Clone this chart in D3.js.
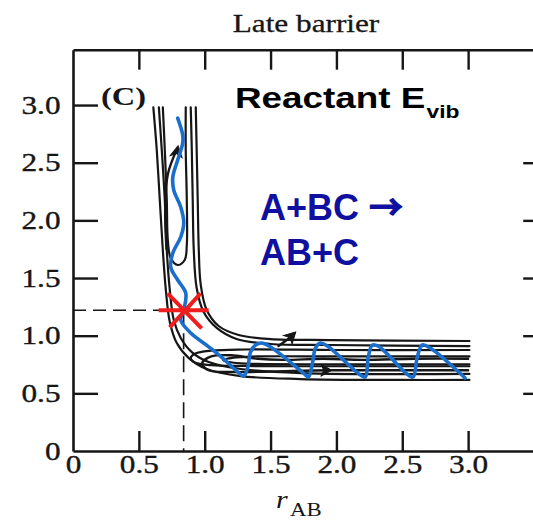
<!DOCTYPE html>
<html>
<head>
<meta charset="utf-8">
<script src="https://cdn.jsdelivr.net/npm/d3@7"></script>
<style>
  html, body { margin: 0; padding: 0; background: #fff; }
  svg { display: block; }
</style>
</head>
<body>
<svg id="chart" width="533" height="520"></svg>
<script>
// ---- axis ticks ----
const xTickValues = [0.5, 1.0, 1.5, 2.0, 2.5, 3.0];
const xLabelValues = [0, 0.5, 1.0, 1.5, 2.0, 2.5, 3.0];
const yTickValues = [0.5, 1.0, 1.5, 2.0, 2.5, 3.0];
const yLabelValues = [0, 0.5, 1.0, 1.5, 2.0, 2.5, 3.0];
const rightTickValues = [0.5, 1.0, 1.5, 2.0, 2.5];

// ---- saddle point (transition state) [rAB, rBC] ----
const saddle = [0.84, 1.22];

// ---- potential energy contours, [rAB, rBC] ----
const contour1Outer = [[0.61,2.98],[0.636,2.61],[0.659,2.176],[0.682,1.743],[0.705,1.396],[0.735,1.119],[0.788,0.936],[0.879,0.806],[1.015,0.711],[1.273,0.65],[1.727,0.624],[2.485,0.616],[3.01,0.616]];
const contour1Inner = [[0.932,2.98],[0.939,2.61],[0.947,2.176],[0.955,1.743],[0.97,1.44],[1.015,1.223],[1.106,1.084],[1.258,1.006],[1.5,0.971],[1.955,0.962],[3.01,0.954]];
const contour2Outer = [[0.652,2.98],[0.674,2.61],[0.697,2.176],[0.712,1.743],[0.735,1.396],[0.765,1.136],[0.818,0.98],[0.902,0.858],[1.03,0.772],[1.273,0.711],[1.727,0.676],[3.01,0.668]];
const contour2Inner = [[0.894,2.98],[0.902,2.61],[0.909,2.176],[0.917,1.743],[0.939,1.413],[0.992,1.205],[1.091,1.067],[1.242,0.971],[1.5,0.928],[1.955,0.919],[3.01,0.91]];
const contourReactantWell = [[0.682,2.98],[0.697,2.61],[0.712,2.176],[0.72,1.829],[0.742,1.673],[0.795,1.613],[0.848,1.656],[0.864,1.786],[0.864,2.176],[0.856,2.61],[0.856,2.98]];
const contourProductWell1 = [[3.01,0.876],[2.0,0.876],[1.3,0.88],[1.05,0.87],[0.93,0.845],[0.894,0.806],[0.93,0.765],[1.05,0.745],[1.3,0.737],[2.0,0.735],[3.01,0.735]];
const contourProductWell2 = [[3.01,0.82],[2.0,0.82],[1.4,0.82],[1.22,0.81],[1.14,0.787],[1.22,0.765],[1.4,0.755],[2.0,0.752],[3.01,0.752]];

// ---- printed trajectories (black) ----
const blackLoop = [[3.0,0.80],[2.6,0.80],[2.2,0.79],[1.9,0.80],[1.6,0.79],[1.4,0.80],[1.2,0.83],[1.05,0.82],[0.98,0.76],[1.03,0.70],[1.2,0.685],[1.5,0.69],[1.95,0.70],[2.5,0.70],[3.0,0.70]];
const blackKick = [[1.56,0.91],[1.62,0.96],[1.68,1.02]];
const blackRise = [[0.71,1.75],[0.70,2.1],[0.72,2.4],[0.79,2.62]];
// arrowheads: position and heading (degrees, screen)
const arrowHeads = [
  { at: [1.95, 0.70], heading: 0 },
  { at: [1.68, 1.02], heading: -45 },
  { at: [0.795, 2.63], heading: -80 }
];

// ---- vibrationally excited reactant trajectory (blue) ----
const vibTrajectory = [[0.795,2.887],[0.833,2.74],[0.833,2.671],[0.795,2.523],[0.758,2.376],[0.765,2.263],[0.818,2.116],[0.841,1.977],[0.818,1.856],[0.758,1.717],[0.742,1.595],[0.795,1.483],[0.856,1.37],[0.841,1.223],[0.818,1.136],[0.894,1.023],[1.023,0.91],[1.136,0.806],[1.242,0.694],[1.295,0.65],[1.326,0.72],[1.348,0.858],[1.386,0.919],[1.432,0.936],[1.5,0.902],[1.75,0.676],[1.788,0.642],[1.818,0.763],[1.841,0.893],[1.879,0.936],[1.932,0.91],[2.182,0.659],[2.22,0.642],[2.242,0.815],[2.273,0.919],[2.318,0.91],[2.545,0.659],[2.583,0.642],[2.614,0.815],[2.652,0.919],[2.712,0.893],[2.977,0.633]];

// ---- drawing ----
const svg = d3.select("#chart");
const x = d3.scaleLinear().domain([0, 3.57]).range([73, 543.2]);
const y = d3.scaleLinear().domain([0, 3.48]).range([451, 49.7]);

const serif = "'Liberation Serif', 'Times New Roman', serif";
const sans = "'Liberation Sans', Arial, sans-serif";
const ink = "#161616";
const stretch = 1.25;

const fmt = d => d === 0 ? "0" : d3.format(".1f")(d);

function styleAxis(g) {
  g.select(".domain").attr("stroke", ink).attr("stroke-width", 2.6);
  g.selectAll(".tick line").attr("stroke", ink).attr("stroke-width", 2.4);
  g.selectAll(".tick text")
    .attr("fill", ink)
    .attr("stroke", ink).attr("stroke-width", 0.35)
    .attr("font-family", serif)
    .attr("font-size", 25);
}

// bottom axis
const gB = svg.append("g").attr("transform", `translate(0,${y(0)})`)
  .call(d3.axisBottom(x).tickValues(xLabelValues).tickSizeInner(-20).tickSizeOuter(0).tickPadding(4).tickFormat(fmt));
styleAxis(gB);
gB.selectAll(".tick").filter(d => d === 0).select("line").remove();
gB.selectAll(".tick text").attr("transform", `scale(${stretch},1)`);

// left axis
const gL = svg.append("g").attr("transform", `translate(${x(0)},0)`)
  .call(d3.axisLeft(y).tickValues(yLabelValues).tickSizeInner(-25).tickSizeOuter(0).tickPadding(10).tickFormat(fmt));
styleAxis(gL);
gL.selectAll(".tick").filter(d => d === 0).select("line").remove();
gL.selectAll(".tick text").attr("transform", `scale(${stretch},1)`);

// top axis
const gT = svg.append("g").attr("transform", `translate(0,${y(3.48)})`)
  .call(d3.axisTop(x).tickValues(xTickValues).tickSizeInner(-20).tickSizeOuter(0).tickFormat(""));
styleAxis(gT);

// right axis
const gR = svg.append("g").attr("transform", `translate(${x(3.57)},0)`)
  .call(d3.axisRight(y).tickValues(rightTickValues).tickSizeInner(-20).tickSizeOuter(0).tickFormat(""));
styleAxis(gR);

const line = d3.line().x(d => x(d[0])).y(d => y(d[1])).curve(d3.curveCatmullRom.alpha(0.5));

// dashed guides to the saddle point
svg.append("path")
  .attr("d", d3.line()([[x(0), y(saddle[1])], [x(saddle[0]), y(saddle[1])]]))
  .attr("stroke", ink).attr("stroke-width", 1.6).attr("stroke-dasharray", "13,7").attr("fill", "none");
svg.append("path")
  .attr("d", d3.line()([[x(saddle[0]), y(saddle[1])], [x(saddle[0]), y(0)]]))
  .attr("stroke", ink).attr("stroke-width", 1.6).attr("stroke-dasharray", "16,7").attr("fill", "none");

// contour lines
const contours = [contour1Outer, contour1Inner, contour2Outer, contour2Inner,
                  contourReactantWell, contourProductWell1, contourProductWell2];
svg.append("g").selectAll("path").data(contours).join("path")
  .attr("d", line)
  .attr("fill", "none").attr("stroke", ink).attr("stroke-width", 2.2)
  .attr("stroke-linecap", "round").attr("stroke-linejoin", "round");

// printed trajectories
svg.append("g").selectAll("path").data([blackLoop, blackKick, blackRise]).join("path")
  .attr("d", line)
  .attr("fill", "none").attr("stroke", ink).attr("stroke-width", 2.4)
  .attr("stroke-linecap", "round");
svg.append("g").selectAll("path").data(arrowHeads).join("path")
  .attr("d", "M2,0 L-9,-6 L-6,0 L-9,6 Z")
  .attr("transform", d => `translate(${x(d.at[0])},${y(d.at[1])}) rotate(${d.heading})`)
  .attr("fill", ink).attr("stroke", ink).attr("stroke-width", 1);

// vibrational trajectory
svg.append("path")
  .attr("d", line(vibTrajectory))
  .attr("fill", "none").attr("stroke", "#1a6fcc").attr("stroke-width", 3.6)
  .attr("stroke-linecap", "round").attr("stroke-linejoin", "round");

// saddle marker
const sx = x(saddle[0]), sy = y(saddle[1]);
svg.append("path")
  .attr("d", `M${sx-25},${sy}H${sx+25}M${sx-16},${sy-17}L${sx+18},${sy+18}M${sx+17},${sy-17}L${sx-14},${sy+17}`)
  .attr("stroke", "#f01d1d").attr("stroke-width", 4).attr("fill", "none");

// ---- text ----
svg.append("text")
  .attr("transform", `translate(306,32) scale(${stretch},1)`)
  .attr("text-anchor", "middle")
  .attr("font-family", serif).attr("font-size", 25).attr("fill", ink)
  .attr("stroke", ink).attr("stroke-width", 0.3)
  .text("Late barrier");

svg.append("text")
  .attr("transform", `translate(101,105) scale(${stretch},1)`)
  .attr("font-family", serif).attr("font-size", 26).attr("font-weight", "bold").attr("fill", ink)
  .text("(C)");

const xTitle = svg.append("text")
  .attr("transform", `translate(276,508) scale(1.2,1)`)
  .attr("font-family", serif).attr("fill", ink);
xTitle.append("tspan").attr("font-style", "italic").attr("font-size", 25).text("r");
xTitle.append("tspan").attr("font-size", 19).attr("dx", 2).attr("dy", 8).text("AB");

const evib = svg.append("text")
  .attr("transform", `translate(235,108) scale(1.27,1)`)
  .attr("font-family", sans).attr("font-weight", "bold").attr("fill", "#000");
evib.append("tspan").attr("font-size", 29).text("Reactant E");
evib.append("tspan").attr("font-size", 18).attr("dy", 10).attr("dx", 1).text("vib");

const blue = "#1010a0";
const rxn = svg.append("text")
  .attr("font-family", sans).attr("font-weight", "bold").attr("font-size", 36).attr("fill", blue);
rxn.append("tspan").attr("x", 260).attr("y", 220).text("A+BC ");
rxn.append("tspan")
  .attr("font-family", "'Noto Sans CJK JP', 'Noto Sans CJK SC', sans-serif")
  .attr("font-weight", "bold").attr("font-size", 34)
  .attr("stroke", blue).attr("stroke-width", 1.2).attr("stroke-linejoin", "round")
  .text("→");
rxn.append("tspan").attr("x", 260).attr("y", 265).text("AB+C");
</script>
</body>
</html>
